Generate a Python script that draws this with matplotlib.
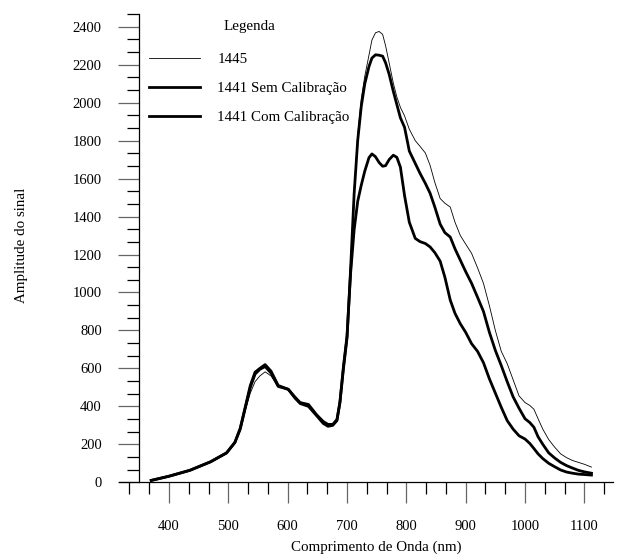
import matplotlib
matplotlib.use("Agg")
import matplotlib.pyplot as plt
from matplotlib.ticker import MultipleLocator

plt.rcParams['font.family'] = ['Liberation Serif', 'DejaVu Serif']

# Wavelength grid (nm)
wavelength = [370, 400, 435, 470, 497, 511, 520, 528, 537, 545, 553, 562, 572, 584,
              601, 612, 621, 635, 649, 660, 668, 676, 683, 688, 694, 700, 706, 712,
              718, 724, 730, 737, 742, 748, 754, 760, 765, 771, 778, 784, 790, 797,
              805, 815, 823, 832, 840, 848, 857, 865, 874, 882, 891, 900, 910, 920,
              930, 940, 950, 960, 970, 980, 990, 1000, 1008, 1015, 1022, 1030, 1040,
              1050, 1060, 1070, 1080, 1090, 1100, 1112]

s1445 = [10, 30, 62, 105, 150, 205, 275, 375, 470, 530, 560, 582, 560, 505,
         485, 440, 415, 405, 355, 320, 305, 310, 335, 430, 620, 790, 1150, 1540,
         1830, 2020, 2140, 2250, 2330, 2368, 2375, 2360, 2300, 2210, 2103, 2030, 1975, 1930,
         1860, 1800, 1770, 1735, 1670, 1580, 1495, 1470, 1450, 1370, 1300, 1255, 1206, 1130,
         1048, 930, 800, 690, 625, 540, 455, 420, 405, 385, 335, 280, 225,
         185, 150, 130, 115, 105, 95, 80]

sem_cal = [10, 32, 63, 108, 155, 210, 280, 385, 500, 570, 595, 610, 575, 505,
           490, 450, 420, 410, 355, 320, 305, 305, 330, 420, 600, 760, 1120, 1520,
           1800, 1980, 2100, 2190, 2235, 2252, 2250, 2245, 2210, 2150, 2060, 1990, 1920, 1870,
           1745, 1680, 1628, 1575, 1523, 1450, 1360, 1315, 1292, 1230, 1170, 1110, 1048, 975,
           900, 790, 695, 615, 530, 450, 390, 335, 315, 290, 240, 200, 155,
           128, 105, 88, 75, 63, 55, 48]

com_cal = [10, 32, 63, 108, 155, 210, 285, 390, 510, 580, 600, 620, 585, 510,
           490, 445, 415, 400, 350, 310, 295, 300, 325, 420, 610, 770, 1100, 1330,
           1480, 1565, 1640, 1710, 1730, 1715, 1685, 1665, 1668, 1700, 1723, 1712, 1660, 1510,
           1370, 1285, 1268, 1258, 1240, 1210, 1165, 1080, 960, 890, 835, 790, 730, 690,
           630, 545, 470, 395, 325, 280, 245, 228, 205, 178, 150, 125, 100,
           82, 65, 54, 48, 43, 41, 38]

labels = ["1445", "1441 Sem Calibração", "1441 Com Calibração"]
yticks = list(range(0, 2401, 200))
xticks = list(range(400, 1101, 100))

W, H = 621, 555
fig = plt.figure(figsize=(W / 100, H / 100), dpi=100)
ax = fig.add_axes([118.6 / W, 1 - 482.3 / H, 494.8 / W, 468.3 / H])

ax.plot(wavelength, s1445, color='black', lw=0.6, label=labels[0])
ax.plot(wavelength, sem_cal, color='black', lw=2.0, label=labels[1])
ax.plot(wavelength, com_cal, color='black', lw=2.0, label=labels[2])

ax.set_xlim(315, 1149)
ax.set_ylim(0, 2467)
ax.spines['top'].set_visible(False)
ax.spines['right'].set_visible(False)
ax.spines['left'].set_position(('data', 350))
ax.spines['left'].set_linewidth(0.9)
ax.spines['bottom'].set_linewidth(0.9)

ax.set_yticks(yticks)
ax.set_xticks(xticks)
ax.yaxis.set_minor_locator(MultipleLocator(200 / 3))
ax.xaxis.set_minor_locator(MultipleLocator(100 / 3))
ax.tick_params(which='major', direction='out', length=15, width=0.9,
               color='#666666', labelsize=10.5, pad=12)
ax.tick_params(which='minor', direction='out', length=9, width=0.9, color='black')
ax.tick_params(axis='x', which='minor', length=8.5)

fig.text(376 / W, 1 - 547 / H, "Comprimento de Onda (nm)", ha='center', va='center',
         fontsize=10.8)
fig.text(22 / W, 1 - 245 / H, "Amplitude do sinal", ha='center', va='center',
         rotation=90, fontsize=10.8)

leg = ax.legend(loc='upper left', bbox_to_anchor=(149 / W, 1 - 20 / H),
                bbox_transform=fig.transFigure, frameon=False, title='Legenda',
                fontsize=10.8, title_fontsize=10.8, handlelength=3.4,
                handletextpad=1.15, labelspacing=1.05, borderpad=0,
                borderaxespad=0)
leg._legend_box.align = 'center'
leg._legend_box.sep = 14

fig.savefig('out.png', dpi=100)
